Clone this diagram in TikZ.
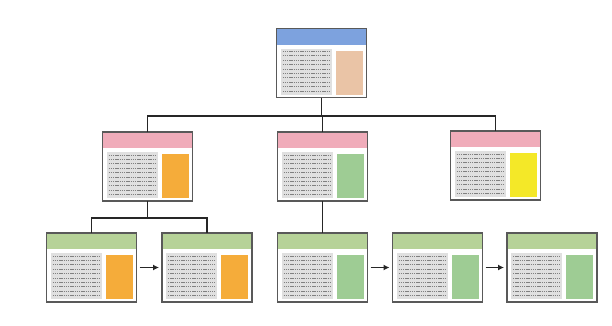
\documentclass[tikz,border=0pt]{standalone}
\usetikzlibrary{arrows.meta}

\definecolor{hdblue}{RGB}{125,162,222}
\definecolor{hdpink}{RGB}{240,172,186}
\definecolor{hdgreen}{RGB}{182,210,152}
\definecolor{pnorange}{RGB}{245,172,58}
\definecolor{pnyellow}{RGB}{244,232,40}
\definecolor{pngreen}{RGB}{158,204,148}
\definecolor{pntan}{RGB}{234,196,166}

\tikzset{
  win/.style={minimum width=90pt, minimum height=69pt, inner sep=0pt, outer sep=0pt},
  winframe/.style={draw=black!65, line width=1.5pt},
  txtbox/.style={fill=black!12},
  txt/.style={draw=black!50, line width=1pt, dash pattern=on 1.4pt off 0.8pt},
  link/.style={draw=black!85, line width=1.3pt},
  flow/.style={link, -{Latex[length=6pt,width=6pt]}, shorten >=3pt, shorten <=3pt}
}

% name, centre, header colour, panel colour
\newcommand{\appwin}[4]{%
  \node[win] (#1) at (#2) {};
  \begin{scope}[shift={(#1.north west)}]
    \fill[#3] (0,0) rectangle (90,16);
    \fill[txtbox] (4,20) rectangle (55,66);
    \foreach \r in {0,...,9}
      \draw[txt] (6,{23+4.4*\r}) -- (53,{23+4.4*\r});
    \fill[#4] (59,22) rectangle (86,66);
  \end{scope}
  \draw[winframe] (#1.north west) rectangle (#1.south east);
}

\begin{document}
\begin{tikzpicture}[x=1pt, y=-1pt]
  \useasboundingbox (0,0) rectangle (612,325);

  % top page
  \appwin{top}{321.5,63}{hdblue}{pntan}

  % second level
  \appwin{midL}{147.5,166.5}{hdpink}{pnorange}
  \appwin{midC}{322.5,166.5}{hdpink}{pngreen}
  \appwin{midR}{495.5,165.5}{hdpink}{pnyellow}

  % third level
  \appwin{botA}{91.5,267.5}{hdgreen}{pnorange}
  \appwin{botB}{207,267.5}{hdgreen}{pnorange}
  \appwin{botC}{322.5,267.5}{hdgreen}{pngreen}
  \appwin{botD}{437.5,267.5}{hdgreen}{pngreen}
  \appwin{botE}{552,267.5}{hdgreen}{pngreen}

  % tree
  \coordinate (busA) at (321.5,116);
  \coordinate (busB) at (147.5,218);
  \draw[link] (top.south) -- (busA);
  \draw[link] (midL.north) |- (busA);
  \draw[link] (midR.north) |- (busA);
  \draw[link] (midC.north) -- (midC.north |- busA);
  \draw[link] (midL.south) -- (busB);
  \draw[link] (botA.north) |- (busB);
  \draw[link] (botB.north) |- (busB);
  \draw[link] (midC.south) -- (botC.north);

  % sequence
  \draw[flow] (botA) -- (botB);
  \draw[flow] (botC) -- (botD);
  \draw[flow] (botD) -- (botE);
\end{tikzpicture}
\end{document}
